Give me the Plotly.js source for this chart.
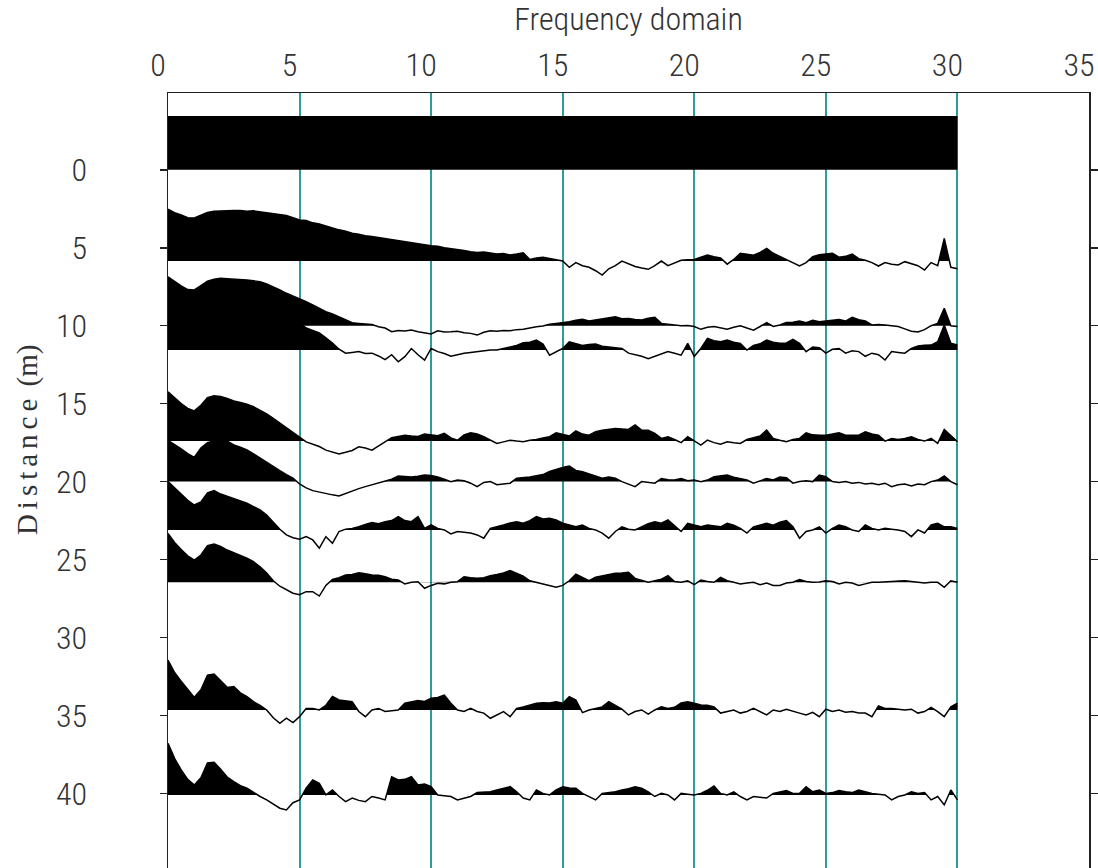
<!DOCTYPE html>
<html><head><meta charset="utf-8">
<script src="https://cdn.plot.ly/plotly-3.0.1.min.js"></script>
<style>html,body{margin:0;padding:0;overflow:hidden;background:#fff}#chart{width:1098px;height:920px}</style>
</head><body><div id="chart"></div>
<script>
// Frequency axis (Hz)
const freq = [0,0.25,0.5,0.75,1,1.25,1.5,1.75,2,2.25,2.5,2.75,3,3.25,3.5,3.75,4,4.25,4.5,4.75,
5,5.25,5.5,5.75,6,6.25,6.5,6.75,7,7.25,7.5,7.75,8,8.25,8.5,8.75,9,9.25,9.5,9.75,
10,10.25,10.5,10.75,11,11.25,11.5,11.75,12,12.25,12.5,12.75,13,13.25,13.5,13.75,14,14.25,14.5,14.75,
15,15.25,15.5,15.75,16,16.25,16.5,16.75,17,17.25,17.5,17.75,18,18.25,18.5,18.75,19,19.25,19.5,19.75,
20,20.25,20.5,20.75,21,21.25,21.5,21.75,22,22.25,22.5,22.75,23,23.25,23.5,23.75,24,24.25,24.5,24.75,
25,25.25,25.5,25.75,26,26.25,26.5,26.75,27,27.25,27.5,27.75,28,28.25,28.5,28.75,29,29.25,29.5,29.75,30];

// Trace distances (m) - baselines of each spectrum
const distA = 0, distB = 5.85, distC = 10.0, distD = 11.56, distE = 17.4;
const distF = 20.0, distG = 23.1, distH = 26.46, distI = 34.65, distJ = 40.1;

// Spectrum amplitudes (in distance units, positive = towards smaller distance)
const freqA = [0, 30];
const ampA = [3.41, 3.41];

const ampB = [3.32,3.1,2.95,2.78,2.76,2.95,3.12,3.2,3.22,3.27,3.25,3.24,3.2,3.22,3.16,3.08,3.04,2.97,2.92,2.78,
2.63,2.6,2.45,2.38,2.25,2.1,2.0,1.92,1.78,1.72,1.62,1.57,1.5,1.42,1.38,1.28,1.25,1.18,1.08,1.04,
0.98,0.95,0.85,0.8,0.72,0.68,0.6,0.55,0.58,0.5,0.45,0.48,0.39,0.45,0.53,0.1,0.2,0.24,0.15,0.06,
0,-0.4,-0.1,-0.3,-0.4,-0.62,-0.9,-0.5,-0.3,0,-0.2,-0.35,-0.45,-0.53,-0.3,0,-0.3,-0.1,0.05,0.08,
0.1,0.25,0.38,0.28,0.2,-0.2,0.1,0.5,0.45,0.38,0.55,0.81,0.5,0.3,0.05,-0.1,-0.32,-0.1,0.28,0.4,
0.45,0.5,0.25,0.3,0.45,0.15,0.05,-0.1,-0.32,-0.1,-0.2,-0.25,-0.04,-0.15,-0.3,-0.58,-0.1,-0.3,1.45,-0.4,
-0.5];

const ampC = [3.14,2.85,2.55,2.32,2.3,2.58,2.85,2.98,3.05,3.02,3.0,2.98,2.93,2.88,2.82,2.68,2.5,2.3,2.08,1.92,
1.76,1.55,1.33,1.12,0.9,0.75,0.58,0.4,0.19,0.15,0.11,0.08,-0.06,-0.15,-0.38,-0.3,-0.34,-0.28,-0.38,-0.45,
-0.53,-0.32,-0.4,-0.38,-0.35,-0.45,-0.49,-0.6,-0.42,-0.32,-0.35,-0.3,-0.32,-0.25,-0.23,-0.15,-0.06,-0.02,0.1,0.15,
0.2,0.26,0.35,0.41,0.3,0.37,0.45,0.5,0.58,0.45,0.47,0.4,0.37,0.48,0.54,0.15,0.1,0.05,0,0.02,
-0.05,-0.23,-0.1,-0.05,-0.15,-0.23,-0.1,0,-0.15,-0.28,-0.05,0.2,-0.05,0.05,0.2,0.22,0.3,0.2,0.35,0.25,
0.3,0.35,0.4,0.3,0.54,0.38,0.3,0.05,0.08,0.05,0,-0.05,-0.2,-0.35,-0.4,-0.25,0,0.15,1.12,0,
-0.05];

const ampD = [3.6,3.3,3.0,2.8,2.72,2.9,3.1,3.2,3.22,3.18,3.1,3.02,2.92,2.8,2.66,2.52,2.36,2.2,2.02,1.86,
1.7,1.42,1.25,1.1,0.78,0.45,0.05,-0.2,-0.15,-0.1,-0.22,-0.2,-0.38,-0.62,-0.3,-0.75,-0.42,0.1,-0.3,-0.64,
0.1,-0.1,-0.22,-0.4,-0.3,-0.2,-0.15,-0.1,-0.05,0,0,0.1,0.2,0.3,0.47,0.5,0.64,0.38,-0.33,-0.1,
0.1,0.53,0.4,0.3,0.35,0.38,0.25,0.2,0.15,0.1,-0.2,-0.3,-0.4,-0.55,-0.4,-0.2,-0.1,-0.2,-0.33,0.43,
-0.4,0.1,0.75,0.6,0.53,0.64,0.5,0.43,0,0.3,0.4,0.64,0.5,0.43,0.45,0.68,0.43,-0.1,0.2,0.15,
-0.2,0.05,0.1,-0.2,-0.05,-0.1,-0.4,-0.2,-0.3,-0.64,-0.1,-0.15,-0.2,0.1,0.26,0.3,0.32,0.53,1.6,0.43,
0.32];

const ampE = [3.16,2.75,2.4,2.1,1.94,2.3,2.78,2.9,2.86,2.74,2.58,2.48,2.37,2.2,1.99,1.75,1.46,1.15,0.81,0.55,
0.25,-0.05,-0.2,-0.35,-0.58,-0.7,-0.83,-0.72,-0.6,-0.37,-0.45,-0.58,-0.3,-0.05,0.22,0.3,0.38,0.32,0.3,0.45,
0.4,0.35,0.5,0.2,0.05,0.4,0.53,0.45,0.28,0.05,-0.15,-0.05,0.06,0,-0.04,0.06,0.1,0.2,0.28,0.53,
0.4,0.32,0.66,0.45,0.38,0.6,0.7,0.75,0.81,0.78,0.75,1.03,0.7,0.7,0.5,0.17,0.28,0.1,-0.1,0.28,
0,-0.26,0.06,-0.1,-0.2,-0.04,-0.1,-0.15,0.1,0.2,0.32,0.7,0.17,0.05,-0.04,0.1,0.17,0.53,0.4,0.38,
0.38,0.45,0.53,0.38,0.4,0.38,0.6,0.45,0.38,0,0.17,0.1,0.17,0.28,0.1,0,0.17,-0.15,0.75,0.38,
-0.04];

const ampF = [2.65,2.4,2.1,1.8,1.56,2.15,2.5,2.62,2.55,2.6,2.35,2.2,2.03,1.78,1.5,1.25,0.96,0.7,0.45,0.22,
-0.15,-0.4,-0.58,-0.68,-0.78,-0.85,-0.92,-0.75,-0.6,-0.45,-0.32,-0.2,-0.1,0,0.15,0.36,0.33,0.3,0.35,0.42,
0.4,0.3,0.15,0,0.1,0.05,-0.1,-0.32,-0.05,0,-0.2,-0.15,-0.1,0.22,0.25,0.3,0.38,0.45,0.65,0.8,
0.9,1.0,0.72,0.64,0.5,0.4,0.22,0.3,0.22,0,-0.15,-0.32,0,-0.05,-0.1,0.2,0.12,0.1,0.2,0.05,
0.1,0,0.1,0.32,0.35,0.42,0.28,0.2,0.1,-0.1,0.05,0.2,0.1,0.3,0.25,-0.1,0,0.05,0,0.42,
0.32,0,-0.05,0,-0.1,-0.05,-0.15,-0.1,-0.2,-0.1,-0.32,-0.2,-0.15,-0.28,-0.15,-0.2,0,0.1,0.36,0,
-0.2];

const ampG = [3.1,2.7,2.3,1.9,1.6,1.8,2.38,2.52,2.3,2.15,2.03,1.88,1.71,1.5,1.28,0.95,0.5,0.04,-0.32,-0.5,
-0.6,-0.43,-0.64,-1.17,-0.43,-0.85,-0.1,0.05,0.1,0.2,0.35,0.47,0.4,0.53,0.6,0.85,0.6,0.53,0.85,0.1,
0.32,0.1,0,-0.26,-0.1,-0.15,-0.2,-0.32,-0.53,0.1,0.2,0.32,0.45,0.53,0.43,0.6,0.85,0.7,0.75,0.64,
0.43,0.3,0.2,0.32,0.1,0,-0.2,-0.53,-0.1,0.2,0.05,0,0.2,0.4,0.53,0.43,0.64,0.3,-0.1,0.43,
0.3,0.2,0.32,0.25,0.2,0.43,0.3,0.1,-0.2,0.2,0.3,0.43,0.3,0.5,0.6,0.2,-0.53,-0.1,0,0.2,
-0.2,0.1,0.32,0.2,0,-0.1,0.32,0.1,0,0.1,0.05,0,-0.1,-0.43,0,-0.2,0.32,0.43,0.2,0.2,
0.1];

const ampH = [3.14,2.55,2.1,1.7,1.43,1.75,2.35,2.45,2.3,2.07,1.9,1.75,1.55,1.32,1.0,0.6,0.1,-0.25,-0.5,-0.7,
-0.8,-0.6,-0.6,-0.88,-0.2,0.18,0.3,0.47,0.5,0.62,0.55,0.47,0.45,0.36,0.2,0.15,-0.1,0,0.04,-0.38,
-0.2,-0.06,-0.1,0,0.04,0.36,0.3,0.26,0.3,0.43,0.5,0.6,0.75,0.6,0.4,0.1,0,-0.1,-0.2,-0.32,
-0.2,0.1,0.53,0.3,0.1,0.32,0.4,0.49,0.58,0.6,0.64,0.25,0.1,0,0.1,0.2,0.43,0.05,0,0.1,
-0.15,0.15,0.05,0,0.32,0.1,0,-0.1,-0.05,0,-0.15,-0.05,-0.2,-0.2,-0.05,0,0.17,0.05,0,0.02,
0.1,0.05,-0.1,0,-0.05,-0.2,-0.1,0,0,0.02,0.05,0.1,0.1,0.05,0,-0.05,0,0,-0.32,0.1,
0];

const ampI = [3.2,2.4,1.85,1.3,0.81,1.3,2.24,2.3,1.9,1.45,1.5,1.1,0.85,0.53,0.3,0,-0.5,-0.86,-0.53,-0.81,
-0.43,0.1,0.1,0,0.3,0.86,0.64,0.6,0.53,-0.1,-0.43,0,0.1,-0.1,-0.05,0,0.43,0.5,0.6,0.55,
0.75,0.8,0.96,0.43,0,-0.1,0.1,-0.1,-0.2,-0.53,-0.3,-0.1,-0.43,0.1,0.2,0.3,0.43,0.47,0.45,0.53,
0.43,0.86,0.64,-0.17,0,0.1,0.2,0.53,0.3,0.05,-0.32,-0.1,0,-0.26,0,0.2,0.1,0.17,0.45,0.53,
0.43,0.32,0.3,0.2,-0.2,-0.1,0,-0.2,-0.1,0.1,-0.1,-0.32,0,-0.1,0.05,-0.1,-0.2,-0.32,-0.15,-0.43,
0.05,-0.1,0,-0.15,-0.1,-0.2,-0.2,-0.43,0.26,0.1,0.1,0.05,0,0.05,-0.2,-0.1,0.17,-0.1,-0.43,0.2,
0.43];

const ampJ = [3.32,2.35,1.6,1.0,0.64,1.1,2.05,2.1,1.65,1.15,0.85,0.6,0.43,0.15,-0.1,-0.32,-0.6,-0.85,-0.96,-0.5,
-0.32,0.43,0.96,0.75,0,0.32,-0.1,-0.43,-0.2,-0.35,-0.43,-0.1,-0.2,-0.32,1.17,0.96,1.0,1.17,0.64,0.7,
0.53,0,-0.05,-0.1,-0.32,-0.2,-0.1,0.15,0.18,0.2,0.32,0.45,0.53,0.2,-0.2,-0.32,0.32,0.1,0,0.32,
0.53,0.45,0.43,0.1,-0.1,-0.32,0.1,0.15,0.2,0.32,0.4,0.53,0.43,0.2,-0.1,0.1,0,-0.32,0.1,0.05,
0,0.1,0.3,0.58,0.1,0,0.2,-0.1,-0.32,-0.1,-0.15,-0.2,0.1,0.2,0.28,0.1,0.1,0.53,0.2,0.32,
0.1,0.15,0.28,0.2,0.15,0.32,0.2,0.1,0.05,0,-0.32,-0.1,0,0.2,0.1,0.15,-0.32,-0.1,-0.64,0.32,
-0.32];

// Axis ticks
const xTicks = [0, 5, 10, 15, 20, 25, 30, 35];
const xTickText = ['0', '5', '10', '15', '20', '25', '30', '35'];
const yTicks = [0, 5, 10, 15, 20, 25, 30, 35, 40];
const yTickText = ['0', '5', '10', '15', '20', '25', '30', '35', '40'];

const series = [
  {f: freqA, a: ampA, d: distA},
  {f: freq, a: ampB, d: distB},
  {f: freq, a: ampC, d: distC},
  {f: freq, a: ampD, d: distD},
  {f: freq, a: ampE, d: distE},
  {f: freq, a: ampF, d: distF},
  {f: freq, a: ampG, d: distG},
  {f: freq, a: ampH, d: distH},
  {f: freq, a: ampI, d: distI},
  {f: freq, a: ampJ, d: distJ}
];

// Positive lobes filled black (wiggle-trace style): polygon of the trace clipped at its baseline
function positiveLobe(f, a, d) {
  const xs = [], ys = [];
  for (let i = 0; i < f.length; i++) {
    if (i > 0 && ((a[i - 1] > 0 && a[i] < 0) || (a[i - 1] < 0 && a[i] > 0))) {
      const t = a[i - 1] / (a[i - 1] - a[i]);
      xs.push(f[i - 1] + t * (f[i] - f[i - 1]));
      ys.push(d);
    }
    xs.push(f[i]);
    ys.push(d - Math.max(a[i], 0));
  }
  xs.push(f[f.length - 1], f[0]);
  ys.push(d, d);
  return {xs, ys};
}

const traces = [];
series.forEach(s => {
  const lobe = positiveLobe(s.f, s.a, s.d);
  traces.push({
    x: lobe.xs, y: lobe.ys,
    mode: 'lines', fill: 'toself', fillcolor: '#000',
    line: {width: 0}, hoverinfo: 'skip', showlegend: false
  });
  traces.push({
    x: s.f, y: s.f.map((_, i) => s.d - s.a[i]),
    mode: 'lines', line: {color: '#000', width: 1.5},
    hoverinfo: 'skip', showlegend: false
  });
});

const FONT = '"Roboto Condensed", "Liberation Sans Narrow", "DejaVu Sans Condensed", sans-serif';

const layout = {
  width: 1098, height: 920,
  margin: {l: 168, r: 9, t: 93, b: 20, pad: 0},
  paper_bgcolor: '#fff', plot_bgcolor: '#fff',
  showlegend: false,
  font: {family: FONT, color: '#333'},
  xaxis: {
    range: [0, 35], side: 'top', tickmode: 'array', tickvals: xTicks, ticktext: xTickText,
    showline: true, linecolor: '#222', linewidth: 1.5, mirror: true, ticks: '',
    showgrid: true, gridcolor: '#2f9b9b', gridwidth: 2, zeroline: false,
    tickfont: {family: FONT, size: 32, color: '#333', weight: 300}, ticklabelshift: -10, ticklabelstandoff: 3,
    title: {text: 'Frequency domain', font: {family: FONT, size: 32, color: '#333', weight: 300}, standoff: 6}
  },
  yaxis: {
    range: [46.84, -4.93], tickmode: 'array', tickvals: yTicks, ticktext: yTickText,
    showline: true, linecolor: '#222', linewidth: 1.5, mirror: 'ticks',
    ticks: 'outside', ticklen: 7, tickwidth: 1.5, tickcolor: '#222',
    showgrid: false, zeroline: false,
    tickfont: {family: FONT, size: 32, color: '#333', weight: 300}, ticklabelstandoff: 66
  },
  annotations: [{
    text: '<span style="letter-spacing:5px">Distance</span> (m)',
    textangle: -90, xref: 'paper', yref: 'paper', x: -0.153, y: 0.57,
    xanchor: 'center', yanchor: 'middle', showarrow: false,
    font: {family: '"Liberation Serif", "DejaVu Serif", serif', size: 29, color: '#333'}
  }]
};

Plotly.newPlot('chart', traces, layout, {staticPlot: true, displayModeBar: false});
</script>
</body></html>
